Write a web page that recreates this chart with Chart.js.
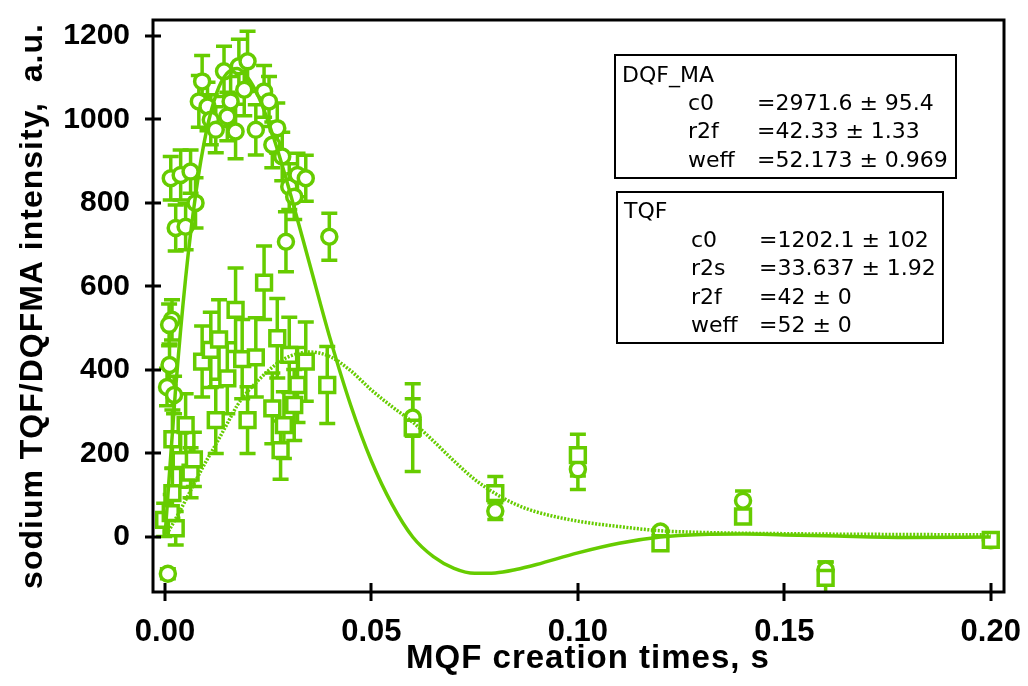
<!DOCTYPE html>
<html>
<head>
<meta charset="utf-8">
<script src="https://cdn.jsdelivr.net/npm/chart.js@4.4.1/dist/chart.umd.min.js"></script>
<style>
  body { margin: 0; background: #fff; }
  #wrap { width: 1028px; height: 686px; }
</style>
</head>
<body>
<div id="wrap"><canvas id="chart" width="1028" height="686"></canvas></div>
<script>
// DQF_MA points (circles)
const dqfX = [0.0007, 0.0005, 0.0011, 0.0017, 0.0010, 0.0022, 0.0014, 0.0026, 0.0038, 0.0050, 0.0062, 0.0074, 0.0082, 0.0090, 0.0103, 0.0111, 0.0123, 0.0143, 0.0151, 0.0159, 0.0171, 0.0179, 0.0192, 0.0200, 0.0220, 0.0240, 0.0252, 0.0260, 0.0272, 0.0284, 0.0293, 0.0301, 0.0313, 0.0321, 0.0341, 0.0398, 0.06, 0.08, 0.10, 0.12, 0.14, 0.16, 0.20];
const dqfY = [-88, 359, 412, 520, 508, 340, 859, 740, 867, 743, 875, 800, 1043, 1091, 1031, 999, 975, 1115, 1007, 1043, 971, 1127, 1071, 1139, 975, 1067, 1043, 939, 979, 911, 707, 839, 815, 867, 859, 719, 286, 62, 162, 13, 87, -78, -8];
const dqfErr = [12, 45, 50, 48, 50, 45, 52, 55, 60, 55, 52, 60, 62, 62, 58, 60, 55, 60, 58, 60, 65, 65, 62, 72, 60, 62, 60, 55, 60, 58, 72, 55, 55, 52, 55, 56, 45, 20, 48, 8, 23, 18, 6];

// TQF points (squares)
const tqfX = [-0.0002, 0.0014, 0.0026, 0.0018, 0.0018, 0.0038, 0.0062, 0.0070, 0.0050, 0.0090, 0.0111, 0.0123, 0.0131, 0.0151, 0.0171, 0.0187, 0.0200, 0.0220, 0.0240, 0.0260, 0.0272, 0.0280, 0.0288, 0.0301, 0.0313, 0.0321, 0.0341, 0.0393, 0.06, 0.08, 0.10, 0.12, 0.14, 0.16, 0.20];
const tqfY = [41, 57, 21, 105, 234, 184, 154, 186, 268, 420, 448, 280, 473, 380, 544, 426, 280, 430, 609, 308, 476, 208, 268, 436, 316, 364, 420, 364, 262, 105, 196, -15, 49, -98, -7];
const tqfErr = [40, 45, 40, 60, 70, 65, 60, 65, 75, 85, 90, 80, 95, 85, 100, 95, 80, 95, 88, 85, 95, 70, 80, 90, 85, 90, 95, 92, 105, 40, 50, 10, 12, 38, 6];

// fitted curves
const fitX = [0, 0.0025, 0.005, 0.0075, 0.01, 0.0125, 0.015, 0.0175, 0.02, 0.0225, 0.025, 0.0275, 0.03, 0.035, 0.04, 0.045, 0.05, 0.055, 0.06, 0.065, 0.07, 0.075, 0.08, 0.085, 0.09, 0.1, 0.11, 0.12, 0.13, 0.14, 0.15, 0.16, 0.18, 0.2];
const dqfFit = [0, 345, 620, 825, 970, 1063, 1110, 1122, 1101, 1058, 995, 919, 835, 655, 475, 315, 182, 78, 0, -47, -75, -87, -86, -78, -66, -38, -15, 0, 6, 7, 5, 3, -1, 0];
const tqfFit = [0, 42, 88, 136, 182, 225, 270, 315, 348, 374, 398, 418, 432, 443, 432, 398, 352, 312, 275, 230, 182, 138, 104, 78, 60, 38, 25, 15, 11, 9, 8, 7, 6, 5];

const xTicks = [0, 0.05, 0.10, 0.15, 0.20];
const yTicks = [0, 200, 400, 600, 800, 1000, 1200];

// fit result boxes
const dqfParams = [['c0', '=2971.6 ± 95.4'], ['r2f', '=42.33 ± 1.33'], ['weff', '=52.173 ± 0.969']];
const tqfParams = [['c0', '=1202.1 ± 102'], ['r2s', '=33.637 ± 1.92'], ['r2f', '=42 ± 0'], ['weff', '=52 ± 0']];

const green = '#66cc00';

function pts(xs, ys) {
    return xs.map((x, i) => ({ x: x, y: ys[i] }));
}

// error bars under the markers
const errorBars = {
    id: 'errorBars',
    beforeDatasetsDraw(chart) {
        const ctx = chart.ctx;
        const xs = chart.scales.x, ys = chart.scales.y;
        const a = chart.chartArea;
        ctx.save();
        ctx.beginPath();
        ctx.rect(a.left, a.top, a.right - a.left, a.bottom - a.top);
        ctx.clip();
        ctx.strokeStyle = green;
        ctx.lineWidth = 3.5;
        const sets = [[dqfX, dqfY, dqfErr], [tqfX, tqfY, tqfErr]];
        sets.forEach(([X, Y, E]) => {
            X.forEach((x, i) => {
                const px = xs.getPixelForValue(x);
                const top = ys.getPixelForValue(Y[i] + E[i]);
                const bot = ys.getPixelForValue(Y[i] - E[i]);
                ctx.beginPath();
                ctx.moveTo(px, top); ctx.lineTo(px, bot);
                ctx.moveTo(px - 8, top); ctx.lineTo(px + 8, top);
                ctx.moveTo(px - 8, bot); ctx.lineTo(px + 8, bot);
                ctx.stroke();
            });
        });
        ctx.restore();
    }
};

// frame, crossing ticks, axis titles and the fit boxes
const decor = {
    id: 'decor',
    afterDraw(chart) {
        const ctx = chart.ctx;
        const a = chart.chartArea;
        const xs = chart.scales.x, ys = chart.scales.y;
        ctx.save();
        ctx.strokeStyle = '#000';
        ctx.lineWidth = 3;
        ctx.strokeRect(a.left, a.top, a.right - a.left, a.bottom - a.top);
        ctx.beginPath();
        yTicks.forEach(v => {
            const py = Math.round(ys.getPixelForValue(v));
            ctx.moveTo(a.left - 8, py); ctx.lineTo(a.left + 8, py);
        });
        xTicks.forEach(v => {
            const px = Math.round(xs.getPixelForValue(v));
            ctx.moveTo(px, a.bottom - 9); ctx.lineTo(px, a.bottom + 9);
        });
        ctx.stroke();

        // axis titles
        ctx.fillStyle = '#000';
        ctx.font = 'bold 33px "Liberation Sans", Arial, sans-serif';
        ctx.letterSpacing = '1px';
        ctx.textAlign = 'center';
        ctx.textBaseline = 'alphabetic';
        ctx.fillText('MQF creation times, s', 588, 668);
        ctx.save();
        ctx.translate(42, 306);
        ctx.rotate(-Math.PI / 2);
        ctx.font = 'bold 32px "Liberation Sans", Arial, sans-serif';
        ctx.fillText('sodium TQF/DQFMA intensity,  a.u.', 0, 0);
        ctx.restore();
        ctx.letterSpacing = '0px';

        // fit boxes
        ctx.lineWidth = 2;
        ctx.fillStyle = '#fff';
        ctx.fillRect(615, 55, 341, 123);
        ctx.strokeRect(615, 55, 341, 123);
        ctx.fillRect(617, 192, 326, 151);
        ctx.strokeRect(617, 192, 326, 151);
        ctx.fillStyle = '#000';
        ctx.textAlign = 'left';
        ctx.font = '22px "DejaVu Sans", sans-serif';
        ctx.fillText('DQF_MA', 622, 82);
        dqfParams.forEach((p, i) => {
            ctx.fillText(p[0], 688, 110 + i * 28.3);
            ctx.fillText(p[1], 757, 110 + i * 28.3);
        });
        ctx.fillText('TQF', 624, 218);
        tqfParams.forEach((p, i) => {
            ctx.fillText(p[0], 691, 247 + i * 28.3);
            ctx.fillText(p[1], 759, 247 + i * 28.3);
        });
        ctx.restore();
    }
};

new Chart(document.getElementById('chart'), {
    type: 'scatter',
    data: {
        datasets: [
            {
                type: 'line',
                label: 'DQF_MA fit',
                data: pts(fitX, dqfFit),
                borderColor: green,
                borderWidth: 3.5,
                pointRadius: 0,
                fill: false,
                cubicInterpolationMode: 'monotone',
                order: 0
            },
            {
                type: 'line',
                label: 'TQF fit',
                data: pts(fitX, tqfFit),
                borderColor: green,
                borderWidth: 3.5,
                borderDash: [2, 1.5],
                pointRadius: 0,
                fill: false,
                cubicInterpolationMode: 'monotone',
                order: 0
            },
            {
                label: 'TQF',
                data: pts(tqfX, tqfY),
                pointStyle: 'rect',
                pointRadius: 10.5,
                borderColor: green,
                backgroundColor: '#fff',
                borderWidth: 3.5,
                order: 1
            },
            {
                label: 'DQF_MA',
                data: pts(dqfX, dqfY),
                pointStyle: 'circle',
                pointRadius: 7.5,
                borderColor: green,
                backgroundColor: '#fff',
                borderWidth: 3.5,
                order: 2
            }
        ]
    },
    options: {
        responsive: false,
        animation: false,
        layout: { padding: { top: 20, right: 24, left: 0, bottom: 0 } },
        plugins: { legend: { display: false }, tooltip: { enabled: false } },
        scales: {
            x: {
                type: 'linear',
                min: -0.0029,
                max: 0.2032,
                grid: { display: false, drawTicks: false },
                border: { display: false },
                afterFit: s => { s.height = 94; s.paddingLeft = 0; s.paddingRight = 0; },
                afterBuildTicks: s => { s.ticks = xTicks.map(v => ({ value: v })); },
                ticks: {
                    padding: 22,
                    color: '#000',
                    font: { family: '"Liberation Sans", Arial, sans-serif', size: 31, weight: 'bold' },
                    callback: v => v.toFixed(2)
                }
            },
            y: {
                type: 'linear',
                min: -131.7,
                max: 1238,
                grid: { display: false, drawTicks: false },
                border: { display: false },
                afterFit: s => { s.width = 153; s.paddingTop = 0; s.paddingBottom = 0; },
                afterBuildTicks: s => { s.ticks = yTicks.map(v => ({ value: v })); },
                ticks: {
                    padding: 23,
                    color: '#000',
                    font: { family: '"Liberation Sans", Arial, sans-serif', size: 30, weight: 'bold' },
                    callback: v => String(v)
                }
            }
        }
    },
    plugins: [errorBars, decor]
});
</script>
</body>
</html>
